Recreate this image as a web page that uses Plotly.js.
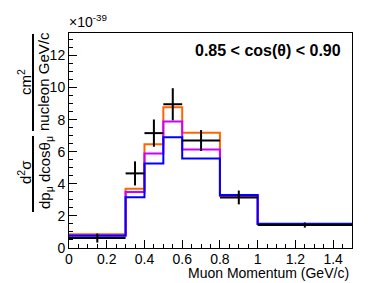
<!DOCTYPE html>
<html>
<head>
<meta charset="utf-8">
<script src="https://cdn.plot.ly/plotly-3.0.1.min.js"></script>
<style>
html,body{margin:0;padding:0;background:#fff;}
#chart{width:387px;height:283px;}
</style>
</head>
<body>
<div id="chart"></div>
<script>
// Bin edges (GeV/c)
var binEdges = [0, 0.3, 0.4, 0.5, 0.6, 0.8, 1.0, 1.5];
// Model predictions (x10^-39 cm^2 / nucleon GeV/c)
var orangeModel  = [0.85, 3.69, 6.47, 8.78, 7.18, 3.27, 1.50];
var magentaModel = [0.80, 3.49, 5.89, 7.88, 6.14, 3.25, 1.50];
var blueModel    = [0.76, 3.17, 5.27, 6.91, 5.58, 3.30, 1.51];
// Data points
var dataX   = [0.15, 0.35, 0.45, 0.55, 0.70, 0.90, 1.25];
var dataY   = [0.62, 4.65, 7.16, 8.96, 6.70, 3.15, 1.43];
var dataErr = [0.28, 0.75, 0.85, 1.00, 0.65, 0.43, 0.16];
var regionLabel = "0.85 < cos(\u03B8) < 0.90";

function stepY(v){ return v.concat([v[v.length-1]]); }
function histTrace(vals, color){
  return {x: binEdges, y: stepY(vals), type:'scatter', mode:'lines',
    line:{shape:'hv', color:color, width:2}, hoverinfo:'skip', showlegend:false};
}
var exMinus = [], exPlus = [];
for (var i=0;i<dataX.length;i++){
  exMinus.push(dataX[i]-binEdges[i]);
  exPlus.push(binEdges[i+1]-dataX[i]);
}
var traces = [
  histTrace(orangeModel, '#ff6600'),
  histTrace(magentaModel, '#cc00ff'),
  histTrace(blueModel, '#0000ff'),
  {x:dataX, y:dataY, type:'scatter', mode:'markers', showlegend:false,
   marker:{color:'#000', size:2},
   error_y:{type:'data', array:dataErr, visible:true, color:'#000', thickness:2, width:0},
   error_x:{type:'data', symmetric:false, array:exPlus, arrayminus:exMinus, visible:true, color:'#000', thickness:2, width:0}}
];

var L=69, R=352, T=33, B=248, W=387, H=283;
function px(x){ return (x-L)/(R-L); }
function py(y){ return (B-y)/(B-T); }
var FONT = 'Liberation Sans, Arial, Helvetica, sans-serif';

var layout = {
  width:W, height:H,
  margin:{l:L, r:W-R, t:T, b:H-B, pad:0},
  paper_bgcolor:'#fff', plot_bgcolor:'#fff',
  font:{family:FONT, size:14, color:'#000'},
  showlegend:false,
  xaxis:{range:[0,1.5], dtick:0.2, tick0:0, ticks:'inside', ticklen:8, tickwidth:1, tickcolor:'#000',
    minor:{dtick:0.05, tick0:0, ticks:'inside', ticklen:4, tickcolor:'#000'},
    showline:true, mirror:true, linecolor:'#000', linewidth:1, showgrid:false, zeroline:false,
    ticklabelstandoff:-2, tickfont:{size:14}},
  yaxis:{range:[0,13.4], dtick:2, tick0:0, ticks:'inside', ticklen:8, tickwidth:1, tickcolor:'#000',
    minor:{dtick:0.5, tick0:0, ticks:'inside', ticklen:4, tickcolor:'#000'},
    showline:true, mirror:true, linecolor:'#000', linewidth:1, showgrid:false, zeroline:false,
    tickfont:{size:14}},
  annotations:[
    {text:regionLabel, xref:'paper', yref:'paper', x:px(343), y:py(50), xanchor:'right', yanchor:'middle',
     showarrow:false, font:{size:16, family:FONT, weight:'bold'}},
    {text:'Muon Momentum (GeV/c)', xref:'paper', yref:'paper', x:px(351), y:py(273), xanchor:'right', yanchor:'middle',
     showarrow:false, font:{size:14}},
    {text:'\u00D710<sup>-39</sup>', xref:'paper', yref:'paper', x:px(67), y:py(21), xanchor:'left', yanchor:'middle',
     showarrow:false, font:{size:14}},
    {text:'cm<sup>2</sup>', xref:'paper', yref:'paper', x:px(24), y:py(82), xanchor:'center', yanchor:'middle',
     textangle:-90, showarrow:false, font:{size:15}},
    {text:'nucleon GeV/c', xref:'paper', yref:'paper', x:px(43), y:py(82), xanchor:'center', yanchor:'middle',
     textangle:-90, showarrow:false, font:{size:15}},
    {text:'d<sup>2</sup>\u03C3', xref:'paper', yref:'paper', x:px(24), y:py(172), xanchor:'center', yanchor:'middle',
     textangle:-90, showarrow:false, font:{size:15}},
    {text:'dp<sub>\u03BC</sub> dcos\u03B8<sub>\u03BC</sub>', xref:'paper', yref:'paper', x:px(45), y:py(173), xanchor:'center', yanchor:'middle',
     textangle:-90, showarrow:false, font:{size:15}}
  ],
  shapes:[
    {type:'line', xref:'paper', yref:'paper', x0:px(33), x1:px(33), y0:py(34), y1:py(131), line:{color:'#000', width:2}},
    {type:'line', xref:'paper', yref:'paper', x0:px(33), x1:px(33), y0:py(136), y1:py(212), line:{color:'#000', width:2}}
  ]
};
Plotly.newPlot('chart', traces, layout, {staticPlot:true, displayModeBar:false});
</script>
</body>
</html>
